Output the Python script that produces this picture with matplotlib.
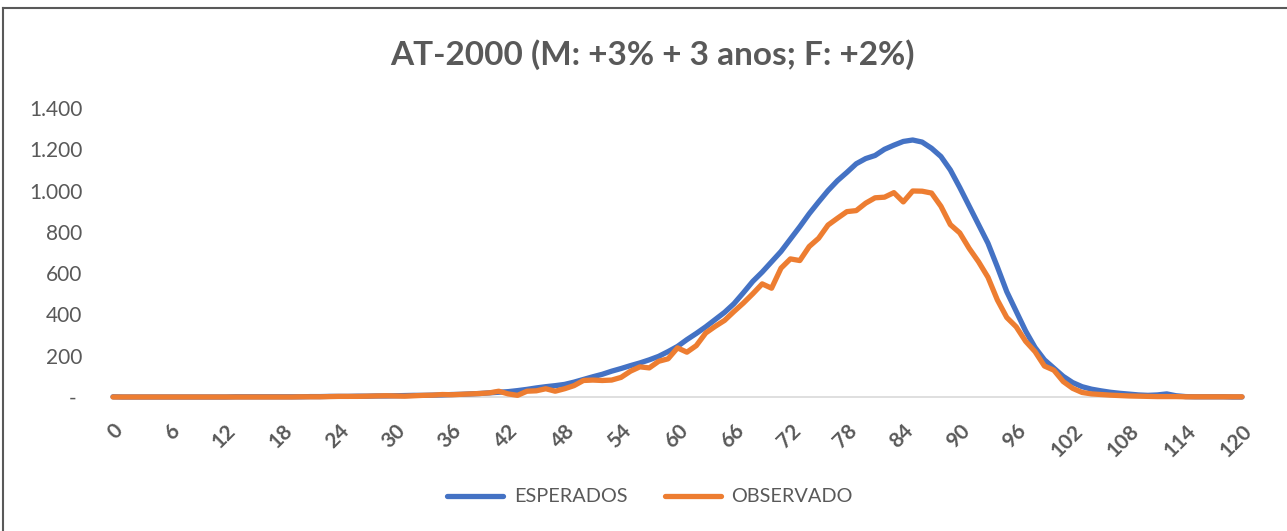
import matplotlib
matplotlib.use("Agg")
import matplotlib.pyplot as plt
from matplotlib.ticker import FuncFormatter
from matplotlib.lines import Line2D

ages = list(range(0, 121))

esperados = [
    1, 0, 0, 0, 0, 0, 0, 0, 0, 0,            # 0-9
    0, 0, 0, 1, 1, 1, 1, 1, 1, 1,            # 10-19
    1, 2, 2, 3, 3, 3, 4, 4, 5, 5,            # 20-29
    6, 7, 8, 8, 9, 10, 12, 13, 15, 17,       # 30-39
    20, 23, 26, 31, 37, 44, 50, 55, 61, 72,  # 40-49
    85, 98, 110, 125, 138, 152, 165, 180, 197, 220,  # 50-59
    245, 278, 308, 340, 375, 410, 452, 505, 560, 605,  # 60-69
    655, 705, 765, 825, 888, 945, 1000, 1048, 1088, 1130,  # 70-79
    1155, 1170, 1200, 1220, 1238, 1245, 1235, 1205, 1165, 1100,  # 80-89
    1015, 925, 835, 745, 630, 510, 415, 320, 240, 180,  # 90-99
    140, 100, 70, 50, 38, 30, 23, 18, 14, 10,  # 100-109
    8, 10, 15, 6, 2, 1, 1, 1, 1, 0,           # 110-119
    0,                                        # 120
]

observado = [
    0, 0, 0, 0, 0, 0, 0, 0, 0, 0,            # 0-9
    0, 0, 0, 0, 0, 0, 0, 0, 0, 0,            # 10-19
    1, 1, 1, 2, 3, 3, 3, 4, 5, 6,            # 20-29
    5, 4, 6, 8, 9, 12, 11, 13, 15, 17,       # 30-39
    20, 28, 15, 8, 28, 30, 40, 28, 40, 55,   # 40-49
    80, 82, 80, 82, 95, 125, 146, 141, 173, 185,  # 50-59
    238, 217, 249, 310, 342, 371, 414, 455, 500, 548,  # 60-69
    527, 624, 669, 661, 729, 769, 833, 866, 898, 903,  # 70-79
    939, 965, 968, 990, 945, 998, 997, 988, 924, 835,  # 80-89
    795, 720, 655, 580, 470, 385, 340, 270, 220, 150,  # 90-99
    130, 75, 42, 22, 15, 12, 9, 7, 5, 4,      # 100-109
    3, 2, 2, 2, 1, 1, 1, 1, 1, 1,             # 110-119
    1,                                        # 120
]

xticks = list(range(0, 121, 6))
yticks = [0, 200, 400, 600, 800, 1000, 1200, 1400]

title = "AT-2000 (M: +3% + 3 anos; F: +2%)"
series_names = ["ESPERADOS", "OBSERVADO"]
colors = ["#4472C4", "#ED7D31"]

plt.rcParams['font.family'] = ['Lato', 'DejaVu Sans']
text_color = "#595959"

W, H = 1287, 531
fig = plt.figure(figsize=(W / 100, H / 100), dpi=100)
ax = fig.add_axes([113 / W, (H - 397) / H, (1242 - 113) / W, (397 - 108) / H])

for vals, c, name in zip([esperados, observado], colors, series_names):
    ax.plot(ages, vals, color=c, lw=3.8, label=name, clip_on=False,
            solid_capstyle='round', solid_joinstyle='round')

ax.set_xlim(0, 120)
ax.set_ylim(0, 1400)
ax.set_xticks(xticks)
ax.set_xticklabels([str(t) for t in xticks], rotation=45, ha='right',
                   va='top', rotation_mode='anchor', fontsize=15,
                   fontweight='bold', color=text_color)
ax.set_yticks(yticks)


def fmt(v, pos):
    if v == 0:
        return "- "
    return f"{int(v):,}".replace(",", ".")


ax.yaxis.set_major_formatter(FuncFormatter(fmt))
for lab in ax.get_yticklabels():
    lab.set_fontsize(15)
    lab.set_color(text_color)

ax.tick_params(axis='both', length=0)
ax.tick_params(axis='y', pad=22)
ax.tick_params(axis='x', pad=17)
for s in ['top', 'right', 'left']:
    ax.spines[s].set_visible(False)
ax.spines['bottom'].set_color("#D9D9D9")
ax.spines['bottom'].set_linewidth(1.2)
ax.spines['bottom'].set_zorder(0)

fig.text(652 / W, 1 - 55 / H, title, ha='center', va='center',
         fontsize=24, fontweight='bold', color=text_color)

handles = [Line2D([0], [0], color=c, lw=3.8, solid_capstyle='round') for c in colors]
fig.legend(handles, series_names, loc='center', bbox_to_anchor=(650 / W, 1 - 497 / H),
           ncol=2, frameon=False, fontsize=14.3, labelcolor=text_color,
           handlelength=2.8, columnspacing=1.9, handletextpad=0.55)

# chart border (left and top visible)
fig.add_artist(Line2D([2.5 / W, 2.5 / W], [0, 1 - 8 / H], transform=fig.transFigure,
                      color="#595959", lw=1.5))
fig.add_artist(Line2D([2.5 / W, 1], [1 - 8 / H, 1 - 8 / H], transform=fig.transFigure,
                      color="#595959", lw=1.5))

fig.savefig("out.png", dpi=100)
